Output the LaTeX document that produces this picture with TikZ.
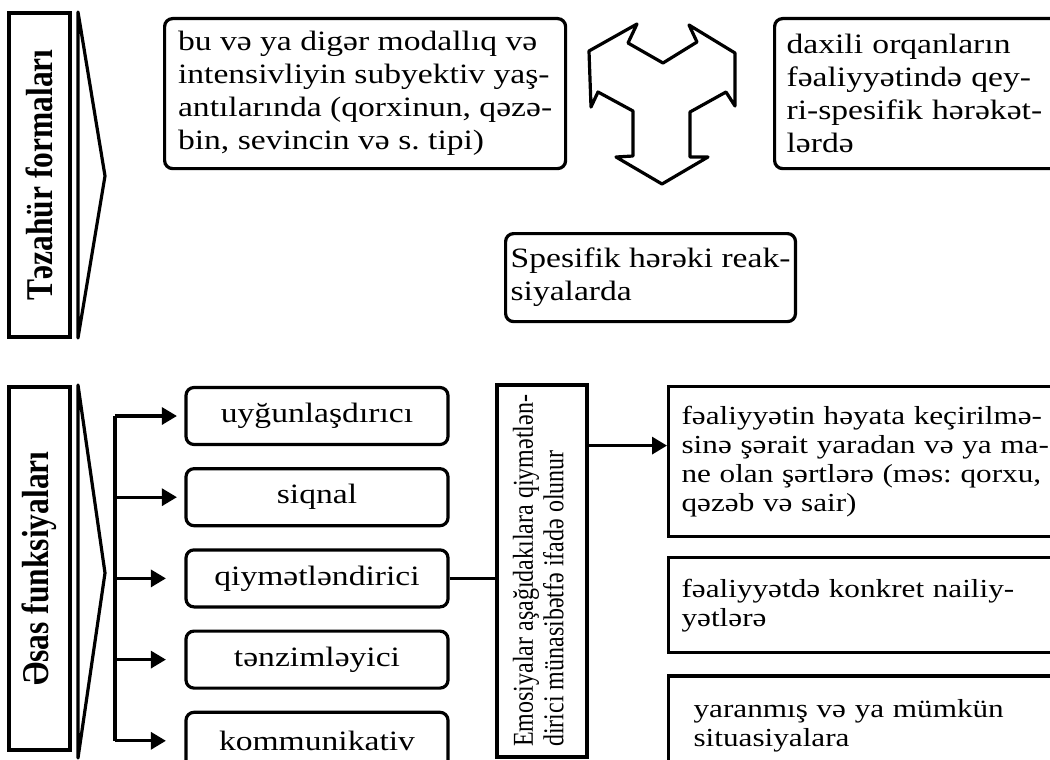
\documentclass[tikz,border=0pt]{standalone}
\usepackage{fontspec}
\setmainfont{Liberation Serif}[FakeStretch=1.2]
\newfontfamily\rotfont{Liberation Serif}
\usetikzlibrary{positioning, arrows.meta}
\frenchspacing

\begin{document}
\begin{tikzpicture}[
  x=1pt, y=-1pt,
  node distance=21pt,
  line/.style={line width=3.2pt},
  titlebox/.style={rectangle, draw, line width=3.2pt, rotate=90,
                   inner sep=0pt, font=\rotfont\bfseries\fontsize{31.5}{36}\selectfont},
  idea/.style={rectangle, rounded corners=8pt, draw, line width=3.2pt,
               align=left, anchor=north west, inner xsep=5pt, inner ysep=3pt,
               font=\fontsize{28}{33}\selectfont},
  func/.style={rectangle, rounded corners=8pt, draw, line width=3.2pt,
               minimum width=262pt, minimum height=57pt,
               font=\fontsize{28}{33}\selectfont},
  result/.style={rectangle, draw, line width=3.2pt, text width=380pt,
                 align=left, anchor=north west, inner xsep=13pt,
                 font=\fontsize{26}{29}\selectfont},
  arr/.style={-{Triangle[length=15pt, width=17pt]}, line width=3.2pt},
]
\useasboundingbox (0,0) rectangle (1050,760);

% Təzahür formaları
\node[titlebox, minimum width=324pt, minimum height=61pt] (tit1) at (39.5,175)
  {\scalebox{1}[1.2]{Təzahür formaları}};
\draw[line, line join=round] (78,12) -- (105,176) -- (78,338) -- cycle;
\node[idea, minimum width=401pt, minimum height=150pt] (hiss) at (163,17)
  {bu və ya digər modallıq və\\ intensivliyin subyektiv yaş-\\
   antılarında (qorxinun, qəzə-\\ bin, sevincin və s. tipi)};
\node[idea, text width=280pt, inner xsep=12pt, minimum height=150pt] (orqan) at (773,17)
  {daxili orqanların\\ fəaliyyətində qey-\\ ri-spesifik hərəkət-\\ lərdə};
\node[idea, minimum height=88pt] (hereket) at (504,232)
  {Spesifik hərəki reak-\\ siyalarda};
% uc oxlu fiqur
\draw[line, line join=round] (663,63) -- (628,43) -- (637,24) -- (589,51) -- (591,107)
  -- (598,92) -- (633,111) -- (633,156) -- (616,157) -- (662,184) -- (708,157)
  -- (690,157) -- (690,112) -- (726,92) -- (735,106) -- (735,53) -- (689,25)
  -- (697,42) -- cycle;

% Əsas funksiyaları
\node[titlebox, minimum width=363pt, minimum height=61pt] (tit2) at (39.5,568.5)
  {\scalebox{1}[1.2]{Əsas funksiyaları}};
\draw[line, line join=round] (78,385) -- (105,573) -- (78,758) -- cycle;
\node[func] (fn1) at (317,416) {uyğunlaşdırıcı};
\node[func, below=of fn1] (fn2) {siqnal};
\node[func, below=of fn2] (fn3) {qiymətləndirici};
\node[func, below=of fn3] (fn4) {tənzimləyici};
\node[func, below=of fn4] (fn5) {kommunikativ};
\node[rectangle, draw, line width=3.2pt, rotate=90, minimum width=372pt,
      minimum height=90pt, inner sep=0pt,
      font=\rotfont\fontsize{24}{25.5}\selectfont] (emo) at (542,571)
  {\scalebox{1}[1.2]{\begin{tabular}{@{}l@{}}
     Emosiyalar aşağıdakılara qiymətlən-\\ dirici münasibətfə ifadə olunur
   \end{tabular}}};
\node[result, minimum height=150pt] (res1) at (667,385)
  {fəaliyyətin həyata keçirilmə-\\ sinə şərait yaradan və ya ma-\\
   ne olan şərtlərə (məs: qorxu,\\ qəzəb və sair)};
\node[result, minimum height=95pt, below=18pt of res1.south west, anchor=north west] (res2)
  {fəaliyyətdə konkret nailiy-\\ yətlərə};
\node[result, minimum height=100pt, inner xsep=25pt, text width=370pt,
      below=20pt of res2.south west, anchor=north west] (res3)
  {yaranmış və ya mümkün\\ situasiyalara};

% Budaqlanma
\coordinate (bus) at (115,0);
\draw[line] (bus |- fn1) -- (bus |- fn5);
\foreach \f/\s in {fn1/7.5, fn2/7.5, fn3/18.5, fn4/18.5, fn5/18.5}
  \draw[arr, shorten >=\s pt] (bus |- \f.west) -- (\f.west);
\draw[line] (fn3.east) -- (fn3.east -| emo.north);
\coordinate (hit) at ([yshift=16pt]res1.west);
\draw[arr] (emo.south |- hit) -- (hit);
\end{tikzpicture}
\end{document}
